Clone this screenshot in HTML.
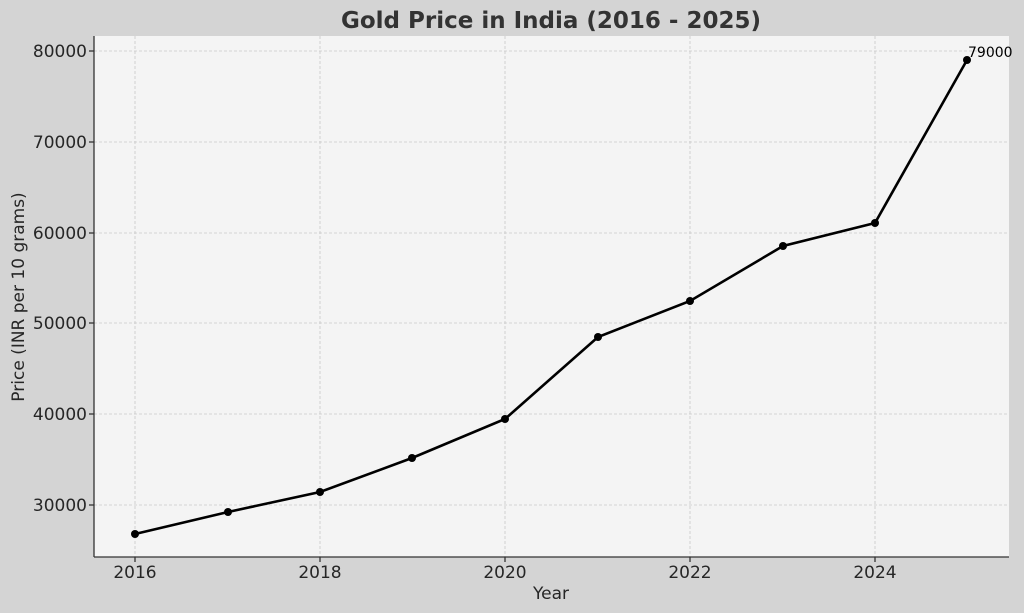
<!DOCTYPE html>
<html><head><style>
body{margin:0;background:#d4d4d4;}
svg{display:block;font-family:"DejaVu Sans","Liberation Sans",sans-serif;}
</style></head><body>
<svg width="1024" height="613" viewBox="0 0 1024 613">
<rect width="1024" height="613" fill="#d4d4d4"/>
<rect x="94" y="36" width="915" height="521" fill="#f4f4f4"/>
<g stroke="#c8c8c8" stroke-width="0.8" stroke-dasharray="3,2">
<line x1="135" y1="36" x2="135" y2="557"/><line x1="320" y1="36" x2="320" y2="557"/>
<line x1="505" y1="36" x2="505" y2="557"/><line x1="690" y1="36" x2="690" y2="557"/>
<line x1="875" y1="36" x2="875" y2="557"/>
<line x1="94" y1="51" x2="1009" y2="51"/><line x1="94" y1="142" x2="1009" y2="142"/>
<line x1="94" y1="233" x2="1009" y2="233"/><line x1="94" y1="323" x2="1009" y2="323"/>
<line x1="94" y1="414" x2="1009" y2="414"/><line x1="94" y1="505" x2="1009" y2="505"/>
</g>
<g stroke="#333" stroke-width="1.3">
<line x1="94" y1="36" x2="94" y2="557"/><line x1="94" y1="557" x2="1009" y2="557"/>
<line x1="89" y1="51" x2="94" y2="51"/><line x1="89" y1="142" x2="94" y2="142"/><line x1="89" y1="233" x2="94" y2="233"/><line x1="89" y1="323" x2="94" y2="323"/><line x1="89" y1="414" x2="94" y2="414"/><line x1="89" y1="505" x2="94" y2="505"/>
<line x1="135" y1="557" x2="135" y2="562"/><line x1="320" y1="557" x2="320" y2="562"/><line x1="505" y1="557" x2="505" y2="562"/><line x1="690" y1="557" x2="690" y2="562"/><line x1="875" y1="557" x2="875" y2="562"/>
</g>
<g font-size="17" fill="#262626" text-anchor="end">
<text x="87" y="57">80000</text><text x="87" y="148">70000</text><text x="87" y="239">60000</text><text x="87" y="329">50000</text><text x="87" y="420">40000</text><text x="87" y="511">30000</text>
</g>
<g font-size="17" fill="#262626" text-anchor="middle">
<text x="135" y="578">2016</text><text x="320" y="578">2018</text><text x="505" y="578">2020</text><text x="690" y="578">2022</text><text x="875" y="578">2024</text>
<text x="551" y="599">Year</text>
</g>
<text transform="translate(24,297) rotate(-90)" font-size="17" fill="#262626" text-anchor="middle">Price (INR per 10 grams)</text>
<text x="551" y="28" font-size="23" font-weight="bold" fill="#333" text-anchor="middle">Gold Price in India (2016 - 2025)</text>
<polyline fill="none" stroke="#000" stroke-width="2.6" points="135,534 228,512 320,492 412,458 505,419 598,337 690,301 783,246 875,223 967,60"/>
<g fill="#000">
<circle cx="135" cy="534" r="4"/><circle cx="228" cy="512" r="4"/><circle cx="320" cy="492" r="4"/><circle cx="412" cy="458" r="4"/><circle cx="505" cy="419" r="4"/><circle cx="598" cy="337" r="4"/><circle cx="690" cy="301" r="4"/><circle cx="783" cy="246" r="4"/><circle cx="875" cy="223" r="4"/><circle cx="967" cy="60" r="4"/>
</g>
<text x="968" y="57" font-size="14" fill="#000">79000</text>
</svg>
</body></html>
